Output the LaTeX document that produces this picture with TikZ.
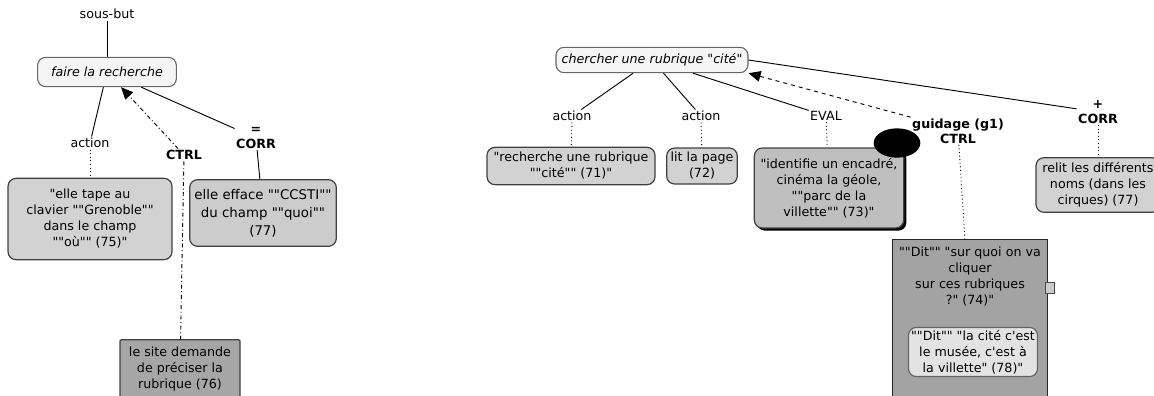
\documentclass[tikz,border=0pt]{standalone}
\usepackage{fontspec}
\newfontfamily\dv{DejaVu Sans}
\usetikzlibrary{arrows.meta,shapes.geometric,shadows}
\tikzset{
  lbl/.style={inner sep=1pt, font=\dv\fontsize{9.5}{11}\selectfont},
  blbl/.style={inner sep=1pt, align=center, font=\dv\fontsize{9.5}{11}\selectfont\bfseries},
  topnode/.style={draw=black!60, line width=0.8pt, rounded corners=6pt, fill=gray!8, inner sep=2pt,
     font=\dv\fontsize{9.5}{11}\selectfont\itshape},
  box/.style={draw=black!75, line width=0.9pt, rounded corners=6pt, align=center, inner sep=2pt,
     font=\dv\fontsize{9.5}{12}\selectfont},
  lnk/.style={draw=black, line width=0.7pt},
  dlnk/.style={draw=black, line width=0.7pt, dotted},
}
\begin{document}
\begin{tikzpicture}[x=0.75pt,y=-0.75pt]
\useasboundingbox (0,0) rectangle (1154,396);
% ---------- left part ----------
\node[lbl] (sb) at (107,14) {sous-but};
\node[topnode, minimum width=104pt, minimum height=22pt] (fr) at (107,72) {faire la recherche};
\node[lbl] (a1) at (90,143) {action};
\node[blbl] (ctrl1) at (184,155) {CTRL};
\node[blbl] (corr1) at (256,138) {=\\CORR};
\node[box, fill=gray!35, minimum width=123pt, minimum height=61pt] (b1) at (90,219)
  {"elle tape au\\clavier ""Grenoble""\\dans le champ\\""où"" (75)"};
\node[box, fill=gray!70, minimum width=90pt, minimum height=44pt, rounded corners=1pt] (b2) at (180,369)
  {le site demande\\de préciser la\\rubrique (76)};
\node[box, fill=gray!40, minimum width=110pt, minimum height=50pt,
  font=\dv\fontsize{10}{13.5}\selectfont] (b3) at (263,213)
  {elle efface ""CCSTI""\\du champ ""quoi""\\(77)};
\draw[lnk] (sb) -- (fr);
\draw[lnk] (fr) -- (a1);
\draw[dlnk] (a1) -- (b1);
\draw[lnk, dash dot, -{Triangle[length=9pt,width=8pt]}] (ctrl1) -- (fr);
\draw[lnk, dash dot] (ctrl1) -- (b2);
\draw[lnk] (fr) -- (corr1);
\draw[lnk] (corr1) -- (b3);
% ---------- right part ----------
\node[topnode, minimum width=144pt, minimum height=19pt] (cr) at (652,60) {chercher une rubrique "cité"};
\node[lbl] (a2) at (572,116) {action};
\node[lbl] (a3) at (701,116) {action};
\node[lbl] (ev) at (826,116) {EVAL};
\node[blbl] (g1) at (958,131) {guidage (g1)\\CTRL};
\node[blbl] (corr2) at (1098,112) {+\\CORR};
\node[box, fill=gray!35, minimum width=126pt, minimum height=28pt] (r1) at (571,166)
  {"recherche une rubrique\\""cité"" (71)"};
\node[box, fill=gray!35, minimum width=53pt, minimum height=27pt] (r2) at (702,166)
  {lit la page\\(72)};
\node[box, fill=gray!50, minimum width=112pt, minimum height=60pt,
  drop shadow={shadow xshift=2pt, shadow yshift=-2pt, fill=black, opacity=1}] (r3) at (829,188)
  {"identifie un encadré,\\cinéma la géole,\\""parc de la\\villette"" (73)"};
\node[ellipse, fill=black, minimum width=35pt, minimum height=22pt, inner sep=0pt] (blob) at (897,143) {};
\node[box, fill=gray!72, minimum width=116pt, minimum height=118pt, rounded corners=0pt, draw=black!85] (r4) at (970,318) {};
\node[box, fill=gray!72, anchor=north, draw=none, rounded corners=0pt] (r4t) at (970,244)
  {""Dit"" "sur quoi on va\\cliquer\\sur ces rubriques\\?" (74)"};
\node[box, fill=gray!22, minimum width=88pt, minimum height=34pt, draw=black!60] (r5) at (973,352)
  {""Dit"" "la cité c'est\\le musée, c'est à\\la villette" (78)"};
\node[draw=black!70, fill=gray!40, minimum width=7pt, minimum height=8pt, inner sep=0pt] (ic) at (1050,288) {};
\node[box, fill=gray!35, minimum width=93pt, minimum height=41pt] (r6) at (1098,185)
  {relit les différents\\noms (dans les\\cirques) (77)};
\draw[lnk] (cr) -- (a2);
\draw[lnk] (cr) -- (a3);
\draw[lnk] (cr) -- (ev);
\draw[lnk] (cr.east) -- (corr2);
\draw[lnk, dashed, -{Triangle[length=9pt,width=8pt]}] (g1.north west) -- (cr.south east);
\draw[dlnk] (a2) -- (r1);
\draw[dlnk] (a3) -- (r2);
\draw[dlnk] (ev) -- (r3);
\draw[dlnk] (g1) -- (r4);
\draw[dlnk] (corr2) -- (r6);
\end{tikzpicture}
\end{document}
